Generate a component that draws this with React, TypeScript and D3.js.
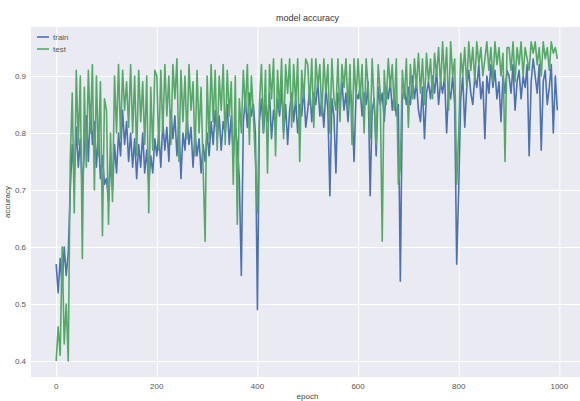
import React, { useEffect, useRef } from "react";
import * as d3 from "d3";

// one value every 4 epochs (rows of 100 epochs)
const epochStep = 4;

const trainAcc = [
  0.57, 0.52, 0.58, 0.53, 0.6, 0.55, 0.59, 0.7, 0.78, 0.72, 0.81, 0.74, 0.79, 0.7, 0.77, 0.83, 0.75, 0.85, 0.78, 0.82, 0.74, 0.8, 0.72, 0.76, 0.71,
  0.72, 0.68, 0.75, 0.7, 0.78, 0.73, 0.8, 0.76, 0.84, 0.78, 0.82, 0.75, 0.8, 0.74, 0.79, 0.72, 0.78, 0.74, 0.8, 0.73, 0.77, 0.71, 0.76, 0.73, 0.79,
  0.76, 0.8, 0.74, 0.82, 0.77, 0.81, 0.75, 0.84, 0.79, 0.83, 0.76, 0.82, 0.72, 0.8, 0.77, 0.83, 0.78, 0.81, 0.74, 0.8, 0.76, 0.79, 0.73, 0.78, 0.75,
  0.8, 0.76, 0.82, 0.78, 0.84, 0.79, 0.83, 0.77, 0.82, 0.8, 0.85, 0.78, 0.83, 0.76, 0.81, 0.78, 0.72, 0.55, 0.82, 0.86, 0.81, 0.87, 0.83, 0.85, 0.8,
  0.49, 0.82, 0.86, 0.8, 0.85, 0.82, 0.87, 0.79, 0.84, 0.81, 0.86, 0.83, 0.88, 0.8, 0.85, 0.78, 0.84, 0.87, 0.82, 0.86, 0.8, 0.85, 0.83, 0.88, 0.81,
  0.84, 0.88, 0.82, 0.87, 0.85, 0.89, 0.83, 0.86, 0.81, 0.88, 0.84, 0.69, 0.86, 0.83, 0.73, 0.87, 0.85, 0.89, 0.84, 0.87, 0.82, 0.88, 0.85, 0.75, 0.87,
  0.86, 0.88, 0.83, 0.87, 0.85, 0.89, 0.69, 0.84, 0.86, 0.76, 0.88, 0.85, 0.87, 0.82, 0.88, 0.86, 0.89, 0.84, 0.87, 0.83, 0.85, 0.54, 0.86, 0.88, 0.85,
  0.88, 0.85, 0.9, 0.86, 0.89, 0.84, 0.82, 0.88, 0.79, 0.87, 0.89, 0.86, 0.9, 0.87, 0.91, 0.85, 0.89, 0.87, 0.9, 0.8, 0.88, 0.86, 0.9, 0.85, 0.57,
  0.7, 0.86, 0.9, 0.81, 0.88, 0.91, 0.87, 0.85, 0.9, 0.88, 0.92, 0.86, 0.89, 0.79, 0.9, 0.87, 0.92, 0.88, 0.91, 0.86, 0.89, 0.82, 0.9, 0.87, 0.91,
  0.9, 0.87, 0.92, 0.84, 0.89, 0.91, 0.86, 0.9, 0.88, 0.92, 0.76, 0.89, 0.93, 0.9, 0.87, 0.92, 0.77, 0.89, 0.91, 0.85, 0.88, 0.92, 0.8, 0.9, 0.84,
];

const testAcc = [
  0.4, 0.46, 0.41, 0.6, 0.43, 0.5, 0.4, 0.75, 0.87, 0.66, 0.91, 0.78, 0.9, 0.58, 0.88, 0.74, 0.91, 0.8, 0.92, 0.7, 0.9, 0.76, 0.89, 0.62, 0.86,
  0.84, 0.64, 0.8, 0.68, 0.9, 0.8, 0.92, 0.79, 0.91, 0.84, 0.89, 0.81, 0.92, 0.8, 0.9, 0.76, 0.91, 0.82, 0.89, 0.78, 0.9, 0.66, 0.88, 0.77, 0.91,
  0.9, 0.77, 0.91, 0.8, 0.92, 0.83, 0.9, 0.78, 0.92, 0.86, 0.93, 0.75, 0.91, 0.82, 0.9, 0.79, 0.92, 0.84, 0.89, 0.76, 0.91, 0.8, 0.88, 0.74, 0.61,
  0.9, 0.79, 0.92, 0.82, 0.91, 0.77, 0.9, 0.84, 0.92, 0.78, 0.91, 0.83, 0.89, 0.71, 0.9, 0.64, 0.86, 0.8, 0.91, 0.84, 0.92, 0.78, 0.9, 0.83, 0.75,
  0.66, 0.85, 0.92, 0.8, 0.91, 0.73, 0.92, 0.86, 0.93, 0.76, 0.91, 0.84, 0.93, 0.79, 0.92, 0.87, 0.93, 0.81, 0.92, 0.85, 0.93, 0.75, 0.91, 0.86, 0.93,
  0.92, 0.85, 0.93, 0.81, 0.93, 0.88, 0.92, 0.83, 0.93, 0.87, 0.92, 0.8, 0.93, 0.86, 0.84, 0.93, 0.82, 0.92, 0.88, 0.93, 0.84, 0.92, 0.78, 0.93, 0.86,
  0.93, 0.86, 0.92, 0.8, 0.93, 0.88, 0.79, 0.93, 0.85, 0.78, 0.92, 0.87, 0.61, 0.91, 0.85, 0.93, 0.88, 0.92, 0.84, 0.93, 0.71, 0.74, 0.91, 0.86, 0.93,
  0.81, 0.92, 0.86, 0.93, 0.88, 0.94, 0.87, 0.93, 0.85, 0.94, 0.89, 0.93, 0.86, 0.94, 0.9, 0.95, 0.88, 0.96, 0.89, 0.95, 0.84, 0.96, 0.9, 0.93, 0.71,
  0.8, 0.94, 0.9, 0.95, 0.88, 0.96, 0.91, 0.95, 0.89, 0.96, 0.92, 0.95, 0.9, 0.93, 0.96, 0.91, 0.95, 0.89, 0.96, 0.92, 0.95, 0.9, 0.94, 0.75, 0.95,
  0.95, 0.91, 0.96, 0.89, 0.95, 0.92, 0.96, 0.9, 0.95, 0.93, 0.91, 0.96, 0.94, 0.96, 0.92, 0.95, 0.9, 0.96, 0.93, 0.95, 0.91, 0.96, 0.94, 0.95, 0.93,
];

const xTicks = [0, 200, 400, 600, 800, 1000];
const yTicks = [0.4, 0.5, 0.6, 0.7, 0.8, 0.9];
const seriesNames = ["train", "test"];
const seriesColors = ["#4c72b0", "#55a868"];

const width = 580;
const height = 401;
const margin = { top: 27, right: -4, bottom: 24, left: 31 };
const font = "'Liberation Sans', Arial, sans-serif";

const App = () => {
  const svgRef = useRef<SVGSVGElement>(null);

  useEffect(() => {
    const svg = d3.select(svgRef.current);
    svg.selectAll("*").remove();

    const innerWidth = width - margin.left - margin.right;
    const innerHeight = height - margin.top - margin.bottom;

    const x = d3.scaleLinear().domain([-50, 1049]).range([0, innerWidth]);
    const y = d3.scaleLinear().domain([0.372, 0.986]).range([innerHeight, 0]);

    const g = svg
      .append("g")
      .attr("transform", `translate(${margin.left},${margin.top})`);

    // background
    g.append("rect")
      .attr("width", innerWidth)
      .attr("height", innerHeight)
      .attr("fill", "#eaeaf2");

    // grid
    g.append("g")
      .call(d3.axisLeft(y).tickValues(yTicks).tickSize(-innerWidth).tickFormat(() => ""))
      .call((a) => a.select(".domain").remove())
      .selectAll("line")
      .attr("stroke", "#fff")
      .attr("stroke-width", 1);

    g.append("g")
      .attr("transform", `translate(0,${innerHeight})`)
      .call(d3.axisBottom(x).tickValues(xTicks).tickSize(innerHeight).tickFormat(() => ""))
      .call((a) => a.select(".domain").remove())
      .selectAll("line")
      .attr("transform", `translate(0,${-innerHeight})`)
      .attr("stroke", "#fff")
      .attr("stroke-width", 1);

    // tick labels
    g.append("g")
      .selectAll("text")
      .data(yTicks)
      .join("text")
      .attr("x", -5)
      .attr("y", (d) => y(d))
      .attr("dy", "0.35em")
      .attr("text-anchor", "end")
      .style("font-family", font)
      .style("font-size", "8px")
      .attr("fill", "#555")
      .text((d) => d3.format(".1f")(d));

    g.append("g")
      .selectAll("text")
      .data(xTicks)
      .join("text")
      .attr("x", (d) => x(d))
      .attr("y", innerHeight + 12)
      .attr("text-anchor", "middle")
      .style("font-family", font)
      .style("font-size", "8px")
      .attr("fill", "#555")
      .text((d) => d);

    // lines
    const line = d3
      .line<number>()
      .x((_, i) => x(i * epochStep))
      .y((d) => y(d));

    [trainAcc, testAcc].forEach((data, i) => {
      g.append("path")
        .datum(data)
        .attr("fill", "none")
        .attr("stroke", seriesColors[i])
        .attr("stroke-width", 1.6)
        .attr("stroke-linejoin", "round")
        .attr("d", line);
    });

    // legend
    const legend = g.append("g").attr("transform", "translate(6,10)");
    seriesNames.forEach((name, i) => {
      const row = legend.append("g").attr("transform", `translate(0,${i * 12})`);
      row.append("line")
        .attr("x1", 0)
        .attr("x2", 12)
        .attr("stroke", seriesColors[i])
        .attr("stroke-width", 1.6);
      row.append("text")
        .attr("x", 16)
        .attr("dy", "0.35em")
        .style("font-family", font)
        .style("font-size", "8px")
        .attr("fill", "#555")
        .text(name);
    });

    // title and axis labels
    svg.append("text")
      .attr("x", margin.left + innerWidth / 2)
      .attr("y", 21)
      .attr("text-anchor", "middle")
      .style("font-family", font)
      .style("font-size", "9px")
      .attr("fill", "#333")
      .text("model accuracy");

    svg.append("text")
      .attr("x", margin.left + innerWidth / 2)
      .attr("y", 399)
      .attr("text-anchor", "middle")
      .style("font-family", font)
      .style("font-size", "8px")
      .attr("fill", "#444")
      .text("epoch");

    svg.append("text")
      .attr("transform", `translate(10,${margin.top + innerHeight / 2}) rotate(-90)`)
      .attr("text-anchor", "middle")
      .style("font-family", font)
      .style("font-size", "8px")
      .attr("fill", "#444")
      .text("accuracy");
  }, []);

  return (
    <svg
      ref={svgRef}
      width={width}
      height={height}
      style={{ position: "absolute", left: 0, top: 0, background: "#fff" }}
    />
  );
};

export default App;
